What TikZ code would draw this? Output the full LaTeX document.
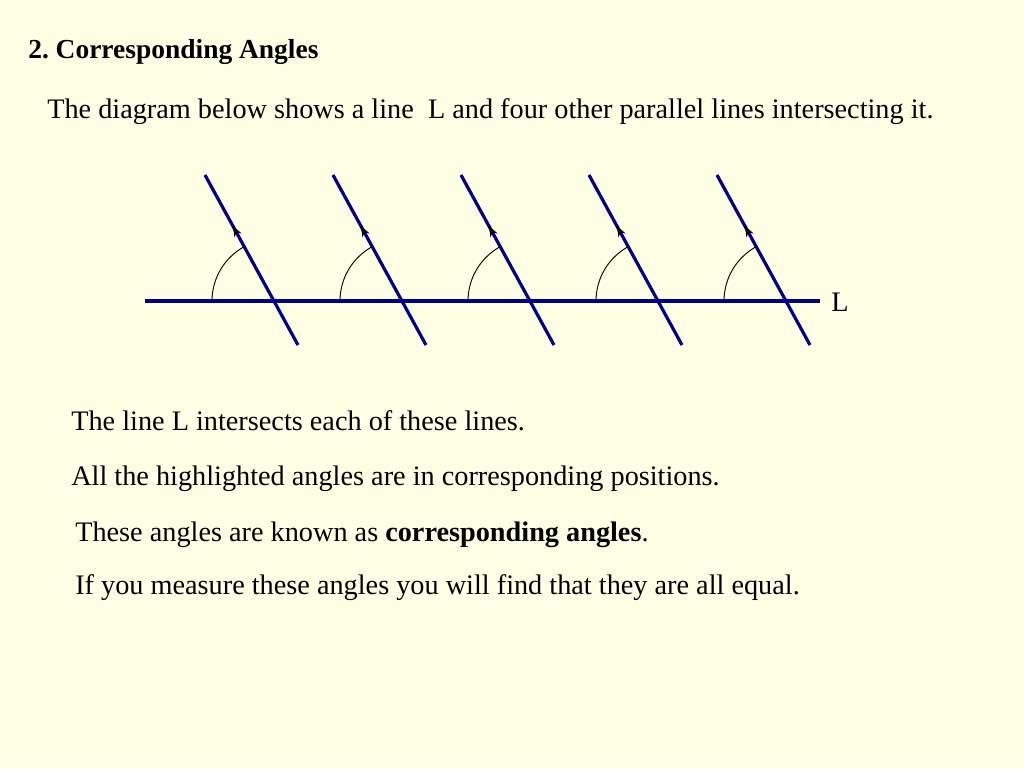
\documentclass[tikz,border=0pt]{standalone}
\usepackage{fontspec}
\setmainfont{Liberation Serif}
\usetikzlibrary{angles,arrows.meta,decorations.markings}

\definecolor{paper}{RGB}{255,255,229}
\definecolor{lineblue}{RGB}{0,0,140}

\begin{document}
\frenchspacing
\begin{tikzpicture}[
                        x=0.75pt,
                        y=-0.75pt,
                        text_line/.style={
                            anchor=base west,
                            inner sep=0pt,
                            font=\fontsize{21.2}{25}\selectfont
                        },
                        heading/.style={
                            anchor=base west,
                            inner sep=0pt,
                            font=\fontsize{20.6}{24}\selectfont\bfseries
                        },
                        line/.style={
                            draw=lineblue,
                            line width=2.4pt
                        },
                        transversal/.style={
                            line,
                            postaction={decorate},
                            decoration={markings,
                                mark=at position 0.7 with {\arrow[black]{Stealth[length=8pt,width=6pt]}}}
                        },
                        angle_arc/.style={
                            draw=black,
                            line width=0.7pt,
                            angle radius=46.5pt
                        }]

                        \fill [paper] (0,0) rectangle (1024,768);
                        \useasboundingbox (0,0) rectangle (1024,768);

                        \node (title) [heading] at (28,58) {2. Corresponding Angles};
                        \node (intro) [text_line] at (47,118) {The diagram below shows a line\ \ L and four other parallel lines intersecting it.};

                        % line L
                        \coordinate (l_start) at (145,301);
                        \coordinate (l_end) at (820,301);
                        \node (l_label) [anchor=west, inner sep=0pt, font=\fontsize{21.2}{25}\selectfont] at (831,302) {L};

                        % parallel lines
                        \coordinate (top_1) at (205,175);
                        \coordinate (bottom_1) at (298,345);
                        \coordinate (top_2) at (333,175);
                        \coordinate (bottom_2) at (426,345);
                        \coordinate (top_3) at (461,175);
                        \coordinate (bottom_3) at (554,345);
                        \coordinate (top_4) at (589,175);
                        \coordinate (bottom_4) at (682,345);
                        \coordinate (top_5) at (717,175);
                        \coordinate (bottom_5) at (810,345);

                        \coordinate (cross_1) at (274,301);
                        \coordinate (cross_2) at (402,301);
                        \coordinate (cross_3) at (530,301);
                        \coordinate (cross_4) at (658,301);
                        \coordinate (cross_5) at (786,301);

                        \draw [line] (l_start) -- (l_end);
                        \draw [transversal] (bottom_1) -- (top_1);
                        \draw [transversal] (bottom_2) -- (top_2);
                        \draw [transversal] (bottom_3) -- (top_3);
                        \draw [transversal] (bottom_4) -- (top_4);
                        \draw [transversal] (bottom_5) -- (top_5);

                        % corresponding angles
                        \pic [angle_arc] {angle = top_1--cross_1--l_start};
                        \pic [angle_arc] {angle = top_2--cross_2--l_start};
                        \pic [angle_arc] {angle = top_3--cross_3--l_start};
                        \pic [angle_arc] {angle = top_4--cross_4--l_start};
                        \pic [angle_arc] {angle = top_5--cross_5--l_start};

                        \node (fact_1) [text_line] at (71,430) {The line L intersects each of these lines.};
                        \node (fact_2) [text_line] at (71,485) {All the highlighted angles are in corresponding positions.};
                        \node (fact_3) [text_line] at (75,541) {These angles are known as \textbf{corresponding angles}.};
                        \node (fact_4) [text_line] at (75,594) {If you measure these angles you will find that they are all equal.};

                    \end{tikzpicture}
\end{document}
